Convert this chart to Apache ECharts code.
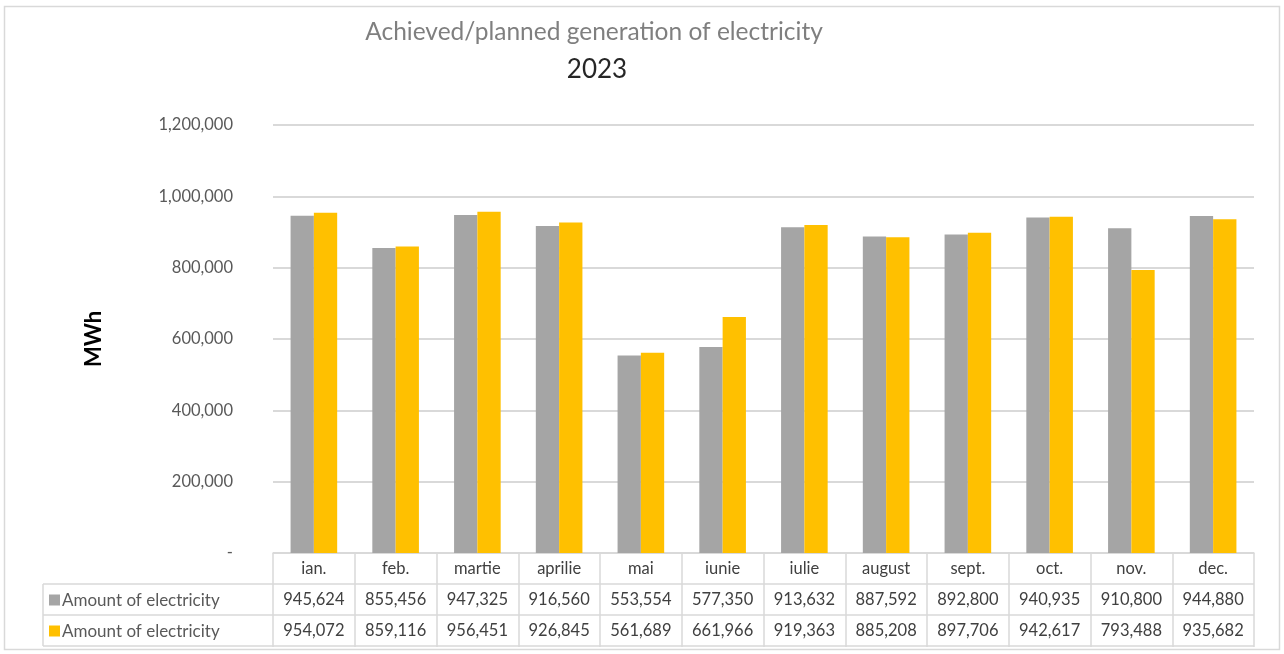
<!DOCTYPE html>
<html>
<head>
<meta charset="utf-8">
<script src="https://cdn.jsdelivr.net/npm/echarts@6/dist/echarts.min.js"></script>
<style>
  html, body { margin: 0; padding: 0; background: #fff; }
  #chart { width: 1284px; height: 654px; }
</style>
</head>
<body>
<div id="chart"></div>
<script>
// Monthly generation of electricity, 2023 (MWh)
const months = ['ian.', 'feb.', 'martie', 'aprilie', 'mai', 'iunie', 'iulie', 'august', 'sept.', 'oct.', 'nov.', 'dec.'];
const achieved = [945624, 855456, 947325, 916560, 553554, 577350, 913632, 887592, 892800, 940935, 910800, 944880];
const planned = [954072, 859116, 956451, 926845, 561689, 661966, 919363, 885208, 897706, 942617, 793488, 935682];
const seriesNames = ['Amount of electricity', 'Amount of electricity'];
const yTicks = { min: 0, max: 1200000, interval: 200000 };

const FONT = 'Lato, "Open Sans", sans-serif';
const GRAY = '#a5a5a5';
const GOLD = '#ffc000';
const LINE = '#d9d9d9';

const fmt = v => v === 0 ? '-' : v.toLocaleString('en-US');

const gridLeft = 273, gridRight = 30, gridTop = 125, gridBottom = 101;
const W = 1284, H = 654;
const axisY = H - gridBottom;        // table header top
const rowH = 31;

const chart = echarts.init(document.getElementById('chart'), null, { renderer: 'canvas' });

chart.setOption({
  backgroundColor: '#fff',
  animation: false,
  title: [
    { text: 'Achieved/planned generation of electricity', left: 589, top: 15, textAlign: 'center',
      textStyle: { fontFamily: FONT, fontSize: 24.5, fontWeight: 'normal', color: '#7f7f7f' } },
    { text: '2023', left: 592, top: 52, textAlign: 'center',
      textStyle: { fontFamily: FONT, fontSize: 26, fontWeight: 'normal', color: '#262626' } }
  ],
  grid: { left: gridLeft, right: gridRight, top: gridTop, bottom: gridBottom, containLabel: false },
  xAxis: {
    type: 'category',
    data: months,
    axisLine: { show: true, lineStyle: { color: LINE, width: 1.5 } },
    axisTick: { show: true, interval: 0, length: rowH * 3 + 1, lineStyle: { color: LINE, width: 1.5 } },
    axisLabel: {
      interval: 0,
      margin: 0,
      formatter: (value, idx) =>
        `{m|${value}}\n{v|${fmt(achieved[idx])}}\n{v|${fmt(planned[idx])}}`,
      rich: {
        m: { fontFamily: FONT, fontSize: 16.5, color: '#404040', lineHeight: rowH, height: rowH, align: 'center', verticalAlign: 'middle' },
        v: { fontFamily: FONT, fontSize: 16.5, color: '#404040', lineHeight: rowH, height: rowH, align: 'center', verticalAlign: 'middle' }
      }
    }
  },
  yAxis: {
    type: 'value',
    min: yTicks.min,
    max: yTicks.max,
    interval: yTicks.interval,
    name: 'MWh',
    nameLocation: 'middle',
    nameRotate: 90,
    nameGap: 168,
    nameTextStyle: { fontFamily: FONT, fontSize: 22, fontWeight: 'bold', color: '#000' },
    axisLine: { show: false },
    axisTick: { show: false },
    axisLabel: {
      margin: 40,
      fontFamily: FONT, fontSize: 16.5, color: '#595959',
      formatter: v => fmt(v)
    },
    splitLine: { show: true, lineStyle: { color: LINE, width: 2 } }
  },
  series: [
    { name: seriesNames[0], type: 'bar', data: achieved, barGap: '0%', barCategoryGap: '43%',
      itemStyle: { color: GRAY } },
    { name: seriesNames[1], type: 'bar', data: planned, barGap: '0%', barCategoryGap: '43%',
      itemStyle: { color: GOLD } }
  ],
  graphic: [
    // outer frame
    { type: 'rect', shape: { x: 4.5, y: 6.5, width: 1275, height: 643 }, silent: true,
      style: { fill: null, stroke: LINE, lineWidth: 1.5 } },
    // table horizontal rules
    { type: 'line', shape: { x1: 43, y1: axisY + rowH, x2: W - gridRight, y2: axisY + rowH }, silent: true,
      style: { stroke: LINE, lineWidth: 1.5 } },
    { type: 'line', shape: { x1: 43, y1: axisY + rowH * 2, x2: W - gridRight, y2: axisY + rowH * 2 }, silent: true,
      style: { stroke: LINE, lineWidth: 1.5 } },
    { type: 'line', shape: { x1: 43, y1: axisY + rowH * 3, x2: W - gridRight, y2: axisY + rowH * 3 }, silent: true,
      style: { stroke: LINE, lineWidth: 1.5 } },
    // legend column edge
    { type: 'line', shape: { x1: 43, y1: axisY + rowH, x2: 43, y2: axisY + rowH * 3 }, silent: true,
      style: { stroke: LINE, lineWidth: 1.5 } },
    // legend keys
    { type: 'rect', shape: { x: 49, y: axisY + rowH * 1.5 - 5, width: 11, height: 11 }, silent: true,
      style: { fill: GRAY } },
    { type: 'text', x: 62, y: axisY + rowH * 1.5 + 1, silent: true,
      style: { text: seriesNames[0], fontFamily: FONT, fontSize: 17, fill: '#595959', verticalAlign: 'middle' } },
    { type: 'rect', shape: { x: 49, y: axisY + rowH * 2.5 - 5, width: 11, height: 11 }, silent: true,
      style: { fill: GOLD } },
    { type: 'text', x: 62, y: axisY + rowH * 2.5 + 1, silent: true,
      style: { text: seriesNames[1], fontFamily: FONT, fontSize: 17, fill: '#595959', verticalAlign: 'middle' } }
  ]
});
</script>
</body>
</html>
